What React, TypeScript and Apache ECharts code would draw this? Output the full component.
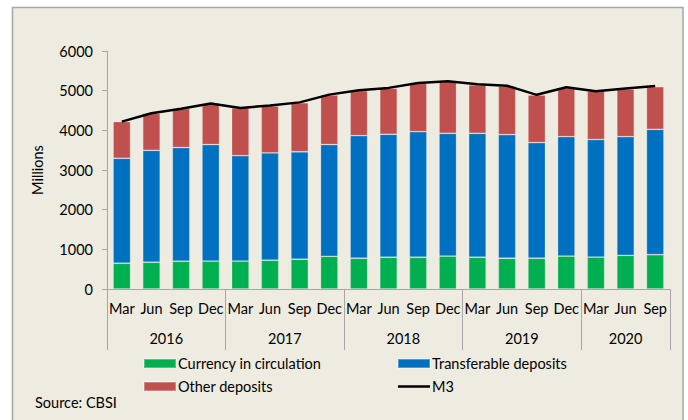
import React, { useEffect, useRef } from "react";
import * as echarts from "echarts";

const months = ["Mar","Jun","Sep","Dec","Mar","Jun","Sep","Dec","Mar","Jun","Sep","Dec","Mar","Jun","Sep","Dec","Mar","Jun","Sep"];
const years = ["2016", "2017", "2018", "2019", "2020"];
const yearCenters = [2, 6, 10, 14, 17.5];
const yearBounds = [0, 4, 8, 12, 16, 19];
const currency = [650,675,700,705,705,725,750,825,775,800,800,830,800,775,775,830,805,850,865];
const transferable = [2645,2820,2865,2935,2655,2705,2710,2815,3090,3100,3165,3095,3125,3115,2915,3010,2965,2990,3160];
const otherDeposits = [925,935,985,1025,1205,1185,1235,1250,1135,1160,1220,1300,1220,1225,1200,1220,1220,1200,1075];
const m3 = [4220,4430,4545,4675,4565,4625,4705,4900,5010,5070,5195,5235,5160,5125,4895,5085,4985,5055,5115];

const FONT = "Lato";
const AXIS = "#A6A6A6";
const FS = 14.5;

export default function App() {
  const ref = useRef<HTMLDivElement>(null);
  useEffect(() => {
    const chart = echarts.init(ref.current!, null, { renderer: "svg" });
    const barBorder = { borderColor: "rgba(255,255,255,0.3)", borderWidth: 0.8 };
    const legendText = { fontSize: FS, fontFamily: FONT, color: "#000", padding: [0, 0, 0, -3] };
    chart.setOption({
      animation: false,
      backgroundColor: "#FFFFFF",
      textStyle: { fontFamily: FONT },
      graphic: [
        {
          type: "rect",
          z: -10,
          silent: true,
          shape: { x: 12.5, y: 7.5, width: 670.5, height: 420 },
          style: { fill: "#EEEBE0", stroke: "#A6A6A6", lineWidth: 1.5 },
        },
        {
          type: "text",
          left: 35,
          top: 395,
          style: { text: "Source: CBSI", fontSize: FS, fontFamily: FONT, fill: "#000" },
        },
      ],
      grid: { left: 107, right: 18, top: 51, bottom: 131, containLabel: false },
      legend: [
        {
          left: 143,
          top: 356,
          padding: 0,
          orient: "vertical",
          itemWidth: 32,
          itemHeight: 9,
          itemGap: 8,
          icon: "rect",
          textStyle: legendText,
          data: ["Currency in circulation", "Other deposits"],
        },
        {
          left: 397,
          top: 356,
          padding: 0,
          orient: "vertical",
          itemWidth: 32,
          itemHeight: 9,
          itemGap: 8,
          textStyle: legendText,
          data: [
            { name: "Transferable deposits", icon: "rect" },
            { name: "M3", icon: "path://M0,0 L32,0 L32,2.5 L0,2.5 Z" },
          ],
        },
      ],
      xAxis: [
        {
          type: "category",
          data: months,
          boundaryGap: true,
          axisLine: { lineStyle: { color: AXIS, width: 1 } },
          axisTick: { interval: 0, length: 30, lineStyle: { color: AXIS } },
          axisLabel: { interval: 0, margin: 12, fontSize: FS, fontFamily: FONT, color: "#000" },
        },
        {
          type: "value",
          position: "bottom",
          min: 0,
          max: 19,
          splitLine: { show: false },
          axisLine: { show: false },
          axisTick: { show: true, length: 61, customValues: yearBounds, lineStyle: { color: AXIS } },
          axisLabel: {
            show: true,
            margin: 42,
            fontSize: FS,
            fontFamily: FONT,
            color: "#000",
            customValues: yearCenters,
            formatter: (v: number) => {
              const i = yearCenters.indexOf(v);
              return i >= 0 ? years[i] : "";
            },
          },
        },
      ],
      yAxis: {
        type: "value",
        min: 0,
        max: 6000,
        interval: 1000,
        name: "Millions",
        nameLocation: "middle",
        nameGap: 62,
        nameTextStyle: { fontSize: FS, fontFamily: FONT, color: "#000" },
        axisLine: { show: true, lineStyle: { color: AXIS } },
        axisTick: { show: true, length: 5, lineStyle: { color: AXIS } },
        splitLine: { show: false },
        axisLabel: {
          margin: 14,
          fontSize: FS,
          fontFamily: FONT,
          color: "#000",
          formatter: (v: number) => String(v),
        },
      },
      series: [
        {
          name: "Currency in circulation",
          type: "bar",
          stack: "m",
          barWidth: "59%",
          data: currency,
          itemStyle: { color: "#00B050", ...barBorder },
        },
        {
          name: "Transferable deposits",
          type: "bar",
          stack: "m",
          data: transferable,
          itemStyle: { color: "#0070C0", ...barBorder },
        },
        {
          name: "Other deposits",
          type: "bar",
          stack: "m",
          data: otherDeposits,
          itemStyle: { color: "#C0504D", ...barBorder },
        },
        {
          name: "M3",
          type: "line",
          data: m3,
          symbol: "none",
          smooth: false,
          lineStyle: { color: "#000", width: 2.5 },
          itemStyle: { color: "#000" },
          z: 5,
        },
      ],
    });
    return () => chart.dispose();
  }, []);
  return (
    <div
      ref={ref}
      style={{ position: "fixed", left: 0, top: 0, width: 688, height: 420 }}
    />
  );
}
